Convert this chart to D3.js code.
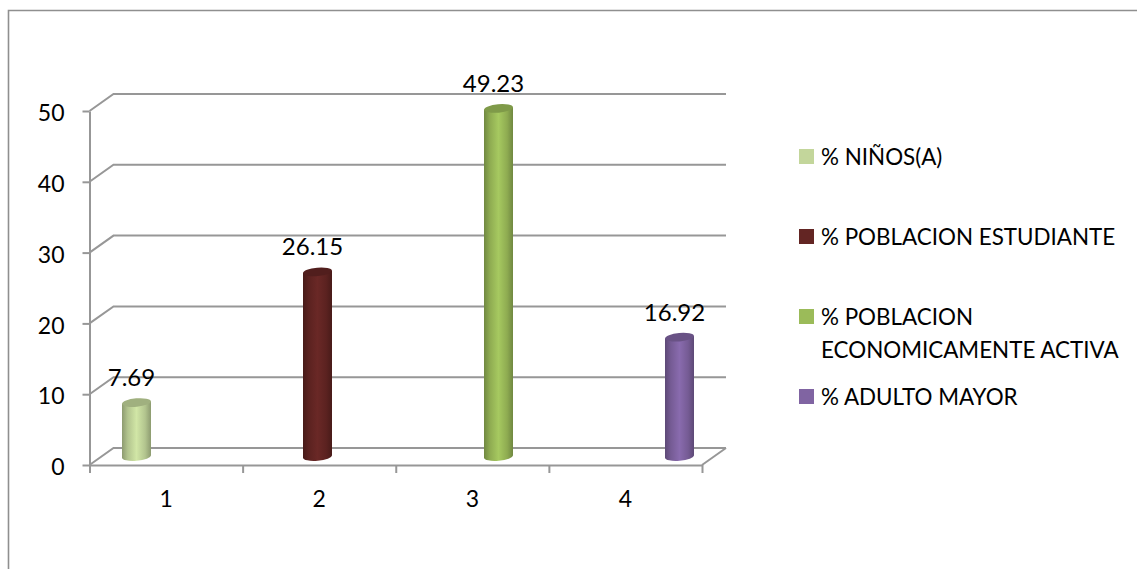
<!DOCTYPE html>
<html><head><meta charset="utf-8">
<script src="https://cdn.jsdelivr.net/npm/d3@7/dist/d3.min.js"></script>
<style>html,body{margin:0;padding:0;background:#fff;overflow:hidden}svg{display:block}text{font-family:Lato,"Open Sans",sans-serif;fill:#000}</style>
</head><body><svg id="c" width="1137" height="569"></svg>
<script>
const categories=["1","2","3","4"];
const values=[7.69,26.15,49.23,16.92];
const valueTicks=[0,10,20,30,40,50];
const colors=["#c3d69b","#632523","#9bbb59","#8064a2"];
const legendLines=[["% NIÑOS(A)"],["% POBLACION ESTUDIANTE"],["% POBLACION","ECONOMICAMENTE ACTIVA"],["% ADULTO MAYOR"]];

const svg=d3.select("#c");
const grey="#979797";
svg.append("path").attr("d","M1137,10.5H8.5V569").attr("fill","none").attr("stroke","#8f8f8f").attr("stroke-width",1.6);

const y=d3.scaleLinear().domain([0,50]).range([465,111]);
const xFront=d3.scaleBand().domain(categories).range([89.5,702]);
const xEdge=d3.scaleLinear().domain([0,4]).range([89.5,702]);
const xBar=d3.scalePoint().domain(categories).range([136.5,679.5]);
const depth={x:24,y:-17};

const grid=svg.append("g").attr("fill","none").attr("stroke",grey).attr("stroke-width",2);
valueTicks.forEach(t=>{
  grid.append("path").attr("d",d3.line()([
    [xEdge(0),y(t)],[xEdge(0)+depth.x,y(t)+depth.y],[xEdge(4)+depth.x,y(t)+depth.y]
  ]));
});
grid.append("path").attr("d",d3.line()([[xEdge(4),y(0)],[xEdge(4)+depth.x,y(0)+depth.y]]));

const yAxis=svg.append("g").attr("transform","translate(89.5,0)")
  .call(d3.axisLeft(y).tickValues(valueTicks).tickSize(7).tickSizeOuter(0).tickPadding(18));
yAxis.selectAll("text").style("font-size","23px").attr("dy","0.42em");
const xTicks=svg.append("g").attr("transform",`translate(0,${y(0)})`)
  .call(d3.axisBottom(xEdge).tickValues([0,1,2,3,4]).tickSize(8).tickSizeOuter(0).tickFormat(""));
const xAxis=svg.append("g").attr("transform",`translate(0,${y(0)})`)
  .call(d3.axisBottom(xFront).tickSize(0).tickPadding(26));
xAxis.select(".domain").remove();
xAxis.selectAll("text").style("font-size","23px").attr("dy","0.71em");
[yAxis,xTicks].forEach(a=>{
  a.selectAll("path.domain,line").attr("stroke",grey).attr("stroke-width",2);
});

const defs=svg.append("defs");
colors.forEach((c,i)=>{
  const k=d3.color(c);
  const g=defs.append("linearGradient").attr("id","g"+i);
  [[0,k.darker(.9)],[.2,k.darker(.25)],[.5,k.brighter(.2)],[.8,k.darker(.25)],[1,k.darker(.9)]]
   .forEach(([o,col])=>g.append("stop").attr("offset",o).attr("stop-color",col));
});

const base=457, bottom=456.5, unit=y(0)-y(1), rx=14.5, ry=4.2, tilt=-5;
values.forEach((v,i)=>{
  const cx=xBar(categories[i]), top=base-v*unit, k=d3.color(colors[i]);
  const x0=cx-rx,x1=cx+rx;
  const bodyPath=`M${x0},${top+1.2}L${x0},${bottom+1.2}A${rx},${ry} ${tilt} 0 0 ${x1},${bottom-1.2}L${x1},${top-1.2}Z`;
  svg.append("path").attr("d",bodyPath).attr("fill",`url(#g${i})`);
  svg.append("ellipse").attr("cx",cx).attr("cy",top).attr("rx",rx).attr("ry",ry)
    .attr("transform",`rotate(${tilt} ${cx} ${top})`)
    .attr("fill",k.darker(.55));
  svg.append("text").attr("x",cx-5).attr("y",top-16.5)
    .attr("text-anchor","middle").style("font-size","24px").text(v.toFixed(2));
});

const legendY=[157,237,317,397];
legendLines.forEach((lines,i)=>{
  svg.append("rect").attr("x",799).attr("y",legendY[i]-8).attr("width",15).attr("height",15).attr("fill",colors[i]);
  lines.forEach((t,j)=>{
    svg.append("text").attr("x",821).attr("y",legendY[i]+8+j*33).style("font-size","22.4px").text(t);
  });
});
</script></body></html>
